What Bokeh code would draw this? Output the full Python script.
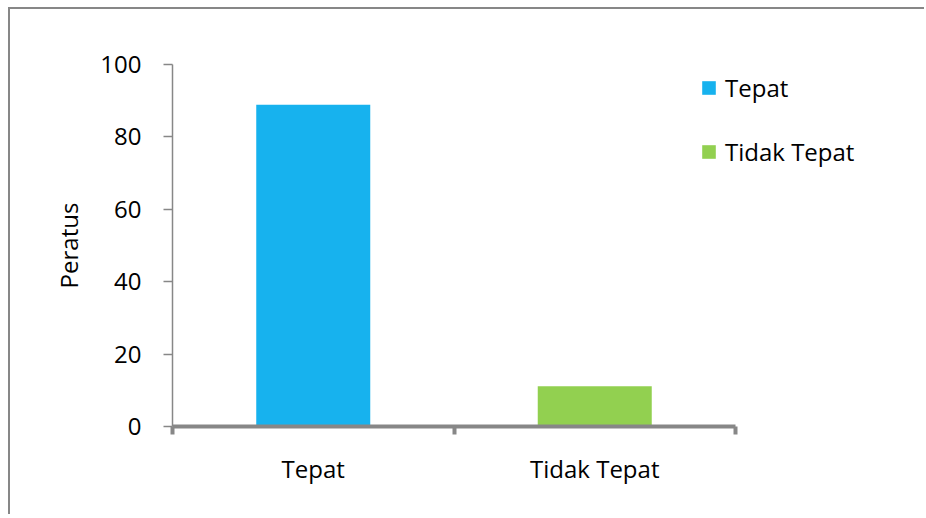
from bokeh.plotting import figure
from bokeh.models import (ColumnDataSource, FixedTicker, Legend, LegendItem, Range1d)
from bokeh.embed import file_html
from bokeh.resources import INLINE

# Data
categories = ["Tepat", "Tidak Tepat"]
percent = [88.9, 11.1]
bar_colors = ["#17B2EE", "#92D050"]
y_ticks = [0, 20, 40, 60, 80, 100]

FONT = "Open Sans"
GRAY = "#878787"

# page geometry (canvas is offset so the outer frame line fits at its top-left)
OX, OY = 10, 9
PAGE_W, PAGE_H = 926, 516
FRAME_L, FRAME_T, FRAME_B = 172, 64, 426
AXIS_R = 735                      # where the category axis ends
FRAME_R = PAGE_W - 40

n = len(categories)
frame_w = FRAME_R - FRAME_L
x_end = n * frame_w / (AXIS_R - FRAME_L)

centers = [i + 0.5 for i in range(n)]

p = figure(width=PAGE_W - OX, height=PAGE_H - OY, output_backend="svg",
           toolbar_location=None,
           x_range=Range1d(0, x_end), y_range=Range1d(0, 100),
           min_border_left=FRAME_L - OX, min_border_right=PAGE_W - FRAME_R,
           min_border_top=FRAME_T - OY, min_border_bottom=PAGE_H - FRAME_B)
p.outline_line_color = None
p.background_fill_color = "white"
p.border_fill_color = "white"
p.xgrid.grid_line_color = None
p.ygrid.grid_line_color = None
# outer chart frame: a hard shadow shows only along the top and left edges
p.styles = {
    "margin-left": f"{OX}px",
    "margin-top": f"{OY}px",
    "box-shadow": "-2px -2px 0 0 #878787",
}

renderers = []
for i, cat in enumerate(categories):
    sub = ColumnDataSource(dict(x=[centers[i]], top=[percent[i]]))
    r = p.vbar(x="x", top="top", bottom=0, width=0.405, source=sub,
               fill_color=bar_colors[i], line_color=None)
    renderers.append((cat, r))

# y axis
ya = p.yaxis[0]
ya.ticker = FixedTicker(ticks=y_ticks)
ya.axis_line_color = GRAY
ya.axis_line_width = 1.5
ya.major_tick_line_color = GRAY
ya.major_tick_line_width = 1.5
ya.major_tick_in = 0
ya.major_tick_out = 9
ya.minor_tick_line_color = None
ya.major_label_text_font = FONT
ya.major_label_text_font_size = "24px"
ya.major_label_text_color = "black"
ya.major_label_standoff = 22
ya.axis_label = "Peratus"
ya.axis_label_text_font = FONT
ya.axis_label_text_font_size = "24px"
ya.axis_label_text_font_style = "normal"
ya.axis_label_text_color = "black"
ya.axis_label_standoff = 12

# x axis: category labels at centres, boundary ticks between categories
xa = p.xaxis[0]
xa.bounds = (0, n)
xa.ticker = FixedTicker(ticks=centers, minor_ticks=list(range(n + 1)))
xa.major_label_overrides = {c: cat for c, cat in zip(centers, categories)}
xa.axis_line_color = GRAY
xa.axis_line_width = 4
xa.major_tick_line_color = None
xa.major_tick_in = 0
xa.major_tick_out = 0
xa.minor_tick_line_color = GRAY
xa.minor_tick_line_width = 4
xa.minor_tick_in = 0
xa.minor_tick_out = 8
xa.major_label_text_font = FONT
xa.major_label_text_font_size = "24px"
xa.major_label_text_color = "black"
xa.major_label_standoff = 17

legend = Legend(items=[LegendItem(label=cat, renderers=[r]) for cat, r in renderers],
                location=(528, 258), orientation="vertical",
                glyph_width=17, glyph_height=17, label_standoff=8,
                label_text_font=FONT, label_text_font_size="24px",
                label_text_color="black", label_height=17,
                spacing=31, padding=0, margin=0,
                border_line_color=None, background_fill_alpha=0)
p.add_layout(legend)

open("out.html", "w").write(file_html(p, INLINE))
